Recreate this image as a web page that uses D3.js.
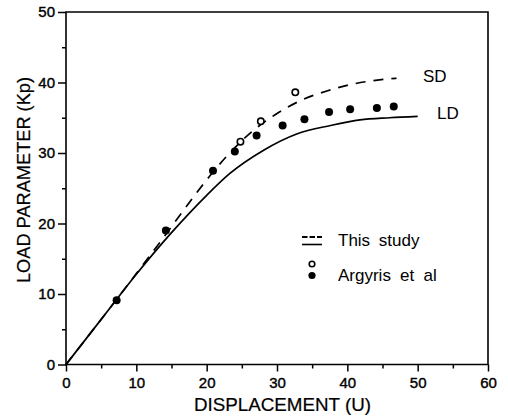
<!DOCTYPE html>
<html><head><meta charset="utf-8">
<script src="https://cdn.jsdelivr.net/npm/d3@7"></script>
<style>
html,body{margin:0;padding:0;background:#fff;}
svg{display:block;}
text{font-family:"Liberation Sans",Arial,sans-serif;fill:#000;}
</style></head>
<body>
<svg id="chart" width="508" height="419"></svg>
<script>
// Curves: "This study"
const ldX = [0, 5, 10, 15, 20, 23.3, 28.1, 32.8, 37.6, 41.8, 46, 50];
const ldY = [0, 6.4, 12.8, 18.7, 24.0, 27.1, 30.4, 32.7, 33.9, 34.7, 35.0, 35.2];
const sdX = [0, 10, 14, 16.5, 18.6, 20.5, 22.9, 26.4, 30, 33.5, 37.1, 40.9, 44, 47];
const sdY = [0, 12.9, 18.2, 21.6, 24.4, 26.8, 29.6, 33.0, 35.6, 37.5, 38.8, 39.8, 40.3, 40.6];
// Argyris et al points
const filledX = [7.2, 14.2, 20.9, 24.0, 27.1, 30.8, 33.9, 37.4, 40.4, 44.2, 46.6];
const filledY = [9.1, 19.0, 27.5, 30.2, 32.5, 33.9, 34.8, 35.8, 36.2, 36.4, 36.6];
const openX = [24.8, 27.7, 32.6];
const openY = [31.6, 34.5, 38.6];
// Axes
const xTicks = [0, 10, 20, 30, 40, 50, 60];
const yTicks = [0, 10, 20, 30, 40, 50];
const xMinor = [5, 15, 25, 35, 45, 55];
const yMinor = [5, 15, 25, 35, 45];
const xTitle = "DISPLACEMENT (U)";
const yTitle = "LOAD PARAMETER (Kp)";
const curveLabels = ["SD", "LD"];
const legendLabels = ["This study", "Argyris et al"];

const svg = d3.select("#chart");
const x = d3.scaleLinear().domain([0, 60]).range([66, 488]);
const y = d3.scaleLinear().domain([0, 50]).range([364.5, 12]);

// frame
svg.append("path")
  .attr("d", `M${x(0)},${y(0)}H${x(60)}V${y(50)}H${x(0)}Z`)
  .attr("fill", "none").attr("stroke", "#000").attr("stroke-width", 1.6);

// axes
const xAxis = svg.append("g").attr("transform", `translate(0,${y(0)})`)
  .call(d3.axisBottom(x).tickValues(xTicks).tickSize(7).tickPadding(4).tickFormat(d3.format("d")));
const xAxisMinor = svg.append("g").attr("transform", `translate(0,${y(0)})`)
  .call(d3.axisBottom(x).tickValues(xMinor).tickSize(4).tickFormat(""));
const yAxis = svg.append("g").attr("transform", `translate(${x(0)},0)`)
  .call(d3.axisLeft(y).tickValues(yTicks).tickSize(8).tickPadding(3).tickFormat(d3.format("d")));
const yAxisMinor = svg.append("g").attr("transform", `translate(${x(0)},0)`)
  .call(d3.axisLeft(y).tickValues(yMinor).tickSize(4).tickFormat(""));
[xAxis, xAxisMinor, yAxis, yAxisMinor].forEach(g => {
  g.select(".domain").remove();
  g.selectAll("line").attr("stroke", "#000").attr("stroke-width", 1.5);
  g.selectAll("text").attr("font-size", 15).attr("font-family", '"Liberation Sans",Arial,sans-serif')
   .attr("fill", "#000").attr("stroke", "#000").attr("stroke-width", 0.4);
});
xAxis.selectAll("text").attr("dy", "0.8em");

// axis titles
svg.append("text").attr("x", 282.5).attr("y", 411).attr("text-anchor", "middle")
  .attr("font-size", 19).attr("textLength", 177).attr("lengthAdjust", "spacingAndGlyphs")
  .attr("stroke", "#000").attr("stroke-width", 0.2)
  .text(xTitle);
svg.append("text").attr("transform", "translate(30,180) rotate(-90)").attr("text-anchor", "middle")
  .attr("font-size", 19).attr("textLength", 206).attr("lengthAdjust", "spacingAndGlyphs")
  .attr("stroke", "#000").attr("stroke-width", 0.2)
  .text(yTitle);

// curves
const line = d3.line().x(d => x(d[0])).y(d => y(d[1])).curve(d3.curveMonotoneX);
svg.append("path").datum(ldX.map((v, i) => [v, ldY[i]]))
  .attr("d", line).attr("fill", "none").attr("stroke", "#000").attr("stroke-width", 1.7);
svg.append("path").datum(sdX.map((v, i) => [v, sdY[i]]))
  .attr("d", line).attr("fill", "none").attr("stroke", "#000").attr("stroke-width", 1.7)
  .attr("stroke-dasharray", "10,8");

// points
svg.append("g").selectAll("circle").data(filledX.map((v, i) => [v, filledY[i]])).join("circle")
  .attr("cx", d => x(d[0])).attr("cy", d => y(d[1])).attr("r", 4).attr("fill", "#000");
svg.append("g").selectAll("circle").data(openX.map((v, i) => [v, openY[i]])).join("circle")
  .attr("cx", d => x(d[0])).attr("cy", d => y(d[1])).attr("r", 3.2)
  .attr("fill", "#fff").attr("stroke", "#000").attr("stroke-width", 1.6);

// curve labels
svg.append("text").attr("x", 423).attr("y", 81.5).attr("font-size", 17).text(curveLabels[0]);
svg.append("text").attr("x", 437).attr("y", 118.5).attr("font-size", 17).text(curveLabels[1]);

// legend
svg.append("line").attr("x1", 302).attr("x2", 322).attr("y1", 237).attr("y2", 237)
  .attr("stroke", "#000").attr("stroke-width", 1.8).attr("stroke-dasharray", "5.5,2");
svg.append("line").attr("x1", 302).attr("x2", 322).attr("y1", 244.5).attr("y2", 244.5)
  .attr("stroke", "#000").attr("stroke-width", 1.6);
svg.append("circle").attr("cx", 312).attr("cy", 264).attr("r", 2.8)
  .attr("fill", "#fff").attr("stroke", "#000").attr("stroke-width", 1.6);
svg.append("circle").attr("cx", 312).attr("cy", 275.5).attr("r", 3.6).attr("fill", "#000");
svg.append("text").attr("x", 338).attr("y", 246).attr("font-size", 17)
  .attr("word-spacing", 4).text(legendLabels[0]);
svg.append("text").attr("x", 338).attr("y", 281).attr("font-size", 17)
  .attr("word-spacing", 4.5).text(legendLabels[1]);
</script>
</body></html>
